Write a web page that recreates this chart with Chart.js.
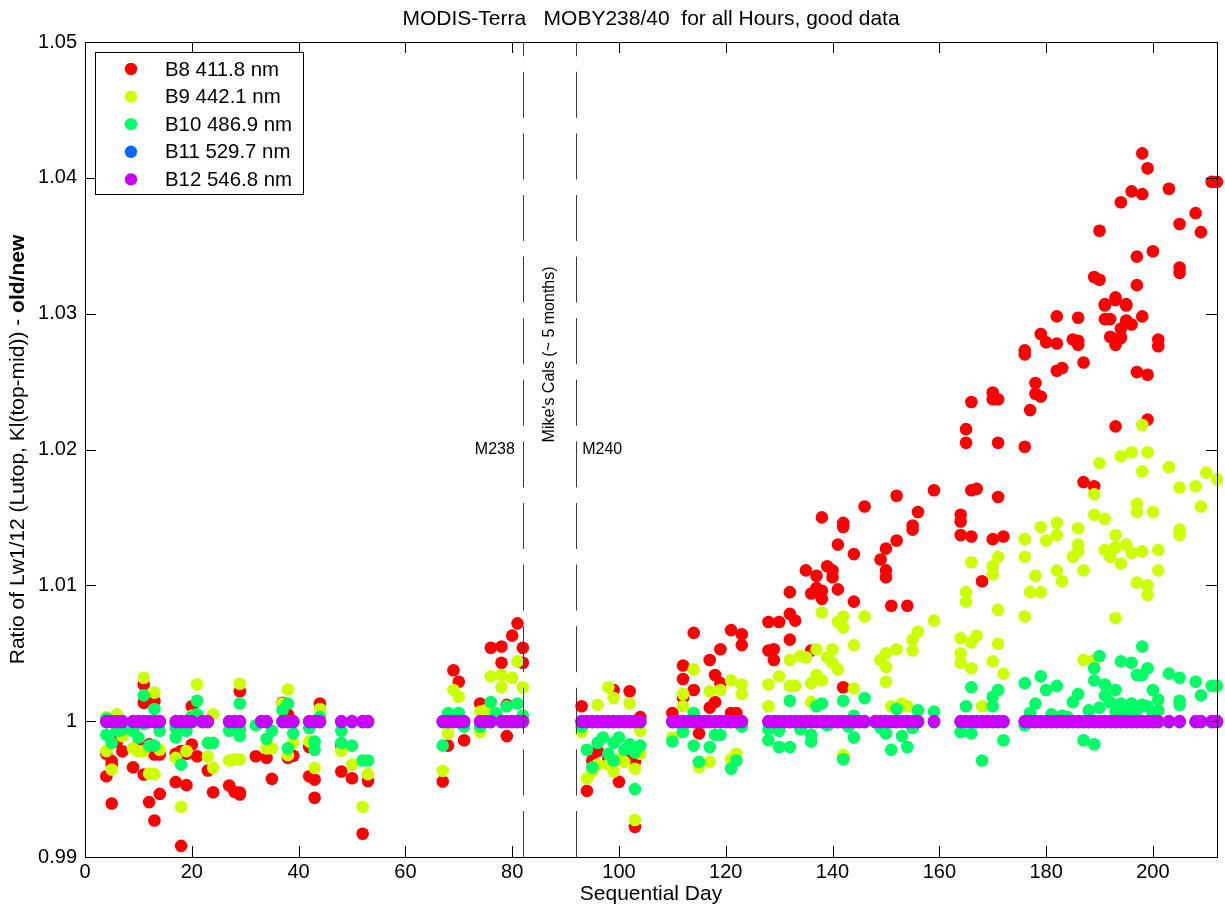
<!DOCTYPE html>
<html>
<head>
<meta charset="utf-8">
<script src="https://cdn.jsdelivr.net/npm/chart.js"></script>
<style>
  html, body { margin: 0; padding: 0; background: #fff; }
</style>
</head>
<body>
<canvas id="chart" width="1225" height="907"></canvas>
<script>
// text
const titleText = 'MODIS-Terra   MOBY238/40  for all Hours, good data';
const xTitle = 'Sequential Day';
const yTitle = 'Ratio of Lw1/12 (Lutop, Kl(top-mid)) - ';
const yTitleBold = 'old/new';

// axes
const xMin = 0, xMax = 212;
const yMin = 0.99, yMax = 1.05;
const xTicks = [0, 20, 40, 60, 80, 100, 120, 140, 160, 180, 200];
const yTicks = [0.99, 1.0, 1.01, 1.02, 1.03, 1.04, 1.05];

// bands
const bandNames = ['B8 411.8 nm', 'B9 442.1 nm', 'B10 486.9 nm', 'B11 529.7 nm', 'B12 546.8 nm'];
const bandColors = ['#ff0000', '#ccff00', '#00ff66', '#0066ff', '#cc00ff'];

// calibration change markers
const calDays = [82, 92];
const calLabels = ['M238', 'M240'];
const calNote = "Mike's Cals (~ 5 months)";
const calLabelLevel = 1.02;
const calNoteLevel = 1.027;

// [day, ratio]
const b8 = [
  [4,.99595],[4,.9976],[5,.99706],[5,.99394],[5,.9968],[6,.9985],[7,.99779],[9,.99661],[10,.9982],[11,.99607],
  [11,1.0027],[11,1.00135],[12,.99404],[12,.9983],[13,.99269],[13,1.00147],[13,.99755],[14,.99755],[14,.99465],
  [17,.99551],[17,.9976],[18,.99082],[18,.9978],[19,.99529],[19,.9976],[20,1.0011],[20,.99828],[21,.99742],
  [23,.99637],[24,.99477],[27,.99526],[28,.9948],[29,.9946],[29,1.0022],[29,.99475],[32,.99742],[34,.9973],
  [35,.99575],[37,1.00135],[38,1.0005],[38,.9973],[39,.99745],[42,.99595],[42,.9981],[43,.9957],[43,.99436],
  [44,1.0013],[48,.9963],[48,.9982],[50,.9958],[52,.99171],[53,.9956],
  [67,.99556],[68,.9982],[69,1.00375],[70,1.0029],[71,.9986],[74,1.0013],[76,1.0054],[78,1.0055],[78,1.0043],
  [79,1.0012],[79,.9989],[80,1.0063],[81,1.0072],[82,1.0054],[82,1.0043],
  [93,1.0011],[94,.99487],[95,.9971],[96,.9978],[98,.9973],[99,1.0023],[100,.99553],[101,.9973],[102,1.0022],
  [102,.9978],[103,.99222],[103,.997],[104,1.0003],
  [110,1.0006],[112,1.0041],[112,1.0031],[112,1.0017],[114,1.0023],[114,1.0065],[115,.9991],[117,1.0045],
  [117,1.001],[118,1.0034],[118,1.0014],[119,1.0028],[119,1.0053],[121,1.0067],[121,1.0006],[122,1.0006],
  [123,1.0064],[123,1.0056],
  [128,1.0073],[128,1.0052],[129,1.0053],[129,1.0045],[130,1.0073],[132,1.006],[132,1.0079],[132,1.0095],
  [133,1.0074],[135,1.0111],[136,1.0052],[136,1.0094],[137,1.0107],[137,1.0098],[138,1.0096],[138,1.009],
  [138,1.015],[139,1.0114],[140,1.0111],[140,1.0106],[141,1.0097],[141,1.013],[142,1.0146],[142,1.0143],
  [142,1.0025],[142,.9974],[144,1.0123],[144,1.0088],[146,1.0158],[149,1.0119],[150,1.0127],[150,1.0111],
  [150,1.0106],[151,1.0085],[152,1.0166],[152,1.0133],[154,1.0085],[155,1.0144],[155,1.0141],[156,1.0154],
  [159,1.017],
  [164,1.0152],[164,1.0147],[164,1.0137],[165,1.0215],[165,1.0205],[166,1.0235],[166,1.0136],[166,1.017],
  [167,1.0171],[168,1.0103],[170,1.0242],[170,1.0237],[170,1.0134],[171,1.0237],[171,1.0205],[171,1.0165],
  [172,1.0136],[176,1.0273],[176,1.027],[176,1.0202],[177,1.0229],[178,1.0249],[178,1.0241],[179,1.0239],
  [179,1.0285],[180,1.0279],[182,1.0278],[182,1.0298],[182,1.0258],[183,1.026],[185,1.0281],[186,1.028],
  [186,1.0277],[186,1.0297],[187,1.0264],[187,1.0176],[189,1.0173],[189,1.0327],[190,1.0325],[190,1.0361],
  [191,1.0306],[191,1.0296],[191,1.0307],[192,1.0283],[192,1.0296],[193,1.031],[193,1.0277],[193,1.0312],
  [193,1.0217],[194,1.0283],[194,1.0289],[194,1.0382],[194,1.0282],[195,1.0294],[195,1.0306],[195,1.0307],
  [195,1.0295],[196,1.0292],[196,1.039],[197,1.0257],[197,1.0342],[197,1.0321],[198,1.0298],[198,1.0418],
  [198,1.0388],[199,1.0255],[199,1.0222],[199,1.0407],[200,1.0346],[201,1.0281],[201,1.0276],[203,1.0392],
  [205,1.0366],[205,1.0334],[205,1.033],[208,1.0374],[209,1.036],[211,1.0397],[212,1.0397]
];

const b9 = [
  [4,1.0003],[4,.9978],[5,.99644],[6,1.0005],[7,.9989],[9,.998],[10,.9978],[11,1.0032],[11,.9978],[12,.99615],
  [13,.9961],[13,1.0021],[14,.9979],[17,.9973],[18,.9937],[19,.9978],[20,1.0004],[21,1.0027],[23,.9974],
  [24,1.0005],[24,.99656],[27,.9971],[28,.9972],[29,.9972],[29,1.00275],[34,.998],[35,.998],[37,1.0013],
  [38,1.00233],[38,.9975],[39,.9984],[42,.9985],[43,.99656],[44,1.0009],[48,.9978],[50,.9968],[52,.9937],
  [53,.9961],
  [67,.99634],[68,.9991],[69,1.0023],[70,1.0018],[74,1.0007],[74,.9992],[75,1.0008],[76,1.0033],[78,1.0034],
  [78,1.0025],[80,1.0032],[81,1.0044],[82,1.0025],
  [93,.9992],[94,.99578],[95,.9963],[96,1.0012],[96,.9968],[98,1.0025],[98,.9968],[99,1.0017],[99,.9963],
  [100,.9972],[101,.997],[102,1.0013],[103,.9965],[103,.99272],[104,.9993],[104,.9976],
  [110,.9988],[112,1.002],[112,1.0011],[114,1.0038],[115,.9966],[117,1.0022],[117,.997],[119,1.0023],
  [121,1.003],[121,.9972],[122,.9976],[123,1.0027],[123,1.002],
  [128,1.0027],[128,1.0011],[130,1.0033],[132,1.0045],[132,1.0026],[133,1.0026],[134,1.0048],[135,1.0047],
  [136,1.0028],[136,1.0014],[137,1.0053],[137,1.0034],[138,1.008],[138,1.003],[139,1.0047],[140,1.0053],
  [140,1.0043],[141,1.0073],[141,1.0038],[142,1.0077],[142,1.0069],[142,.9975],[144,1.0056],[144,1.0024],
  [146,1.0077],[149,1.0045],[150,1.005],[150,1.004],[150,1.0029],[151,1.0011],[152,1.0053],[153,1.0013],
  [154,1.0011],[155,1.006],[155,1.0052],[156,1.0066],[159,1.0074],
  [164,1.0061],[164,1.005],[164,1.0043],[165,1.0095],[165,1.0088],[166,1.0058],[166,1.0039],[166,1.0117],
  [167,1.0063],[168,1.0011],[170,1.0114],[170,1.0108],[170,1.0044],[171,1.0082],[171,1.0057],[171,1.0121],
  [172,1.0035],[176,1.0077],[176,1.0134],[176,1.0121],[177,1.0095],[178,1.0107],[179,1.0095],[179,1.0143],
  [180,1.0133],[182,1.0111],[182,1.0146],[182,1.0137],[183,1.0103],[185,1.0121],[186,1.0142],[186,1.013],
  [186,1.0125],[187,1.0111],[187,1.0045],[189,1.0045],[189,1.0167],[189,1.0152],[190,1.019],[191,1.0149],
  [191,1.0126],[192,1.0121],[193,1.0137],[193,1.0128],[193,1.0076],[194,1.0116],[194,1.0195],[195,1.013],
  [196,1.0198],[196,1.0124],[197,1.0102],[197,1.016],[197,1.0154],[198,1.0218],[198,1.0184],[198,1.0125],
  [199,1.0198],[199,1.01],[199,1.0093],[200,1.0154],[201,1.0126],[201,1.0111],[203,1.0187],[205,1.0172],
  [205,1.0141],[205,1.0137],[208,1.0173],[209,1.0158],[210,1.0183],[212,1.0178]
];

const b10 = [
  [4,.999],[4,1.0002],[5,.9984],[6,.9993],[7,.9994],[9,.9993],[10,.9988],[11,1.0019],[11,.9998],[12,.9982],
  [13,.9982],[13,1.0009],[14,.9993],[17,.9988],[17,.9995],[18,.9968],[19,.9993],[20,1.0003],[21,1.0015],
  [21,1.0005],[23,.9984],[24,.9984],[27,.9993],[29,1.0013],[29,.9989],[29,.9994],[32,.9997],[34,.9987],
  [35,.9993],[37,1.0008],[38,1.0013],[38,.998],[39,.9991],[42,.9995],[43,.9985],[43,.9979],[44,1.0003],
  [48,.9993],[48,.9984],[50,.9982],[52,.9971],[53,.9971],
  [67,.9982],[68,1.0006],[69,1.0003],[70,1.0006],[71,.9996],[74,.9996],[76,1.0014],[77,1.0006],[79,1.0011],
  [81,1.0013],[82,1.0004],
  [93,.9996],[94,.9979],[95,.9966],[96,.9984],[97,.9988],[98,.9976],[99,.9971],[99,.9984],[100,.9988],
  [101,.9979],[102,.9983],[103,.995],[103,.9977],[104,.9982],
  [110,.9985],[112,.9992],[114,1.0006],[114,.9982],[115,.997],[117,.9981],[118,.999],[119,.999],[121,.9965],
  [122,.9971],[123,.9996],
  [128,.9994],[128,.9986],[130,.9981],[130,.9993],[132,1.0015],[132,.9981],[134,.9994],[136,.999],[136,.9985],
  [137,1.0011],[138,1.0013],[139,.9997],[142,1.0015],[142,.9972],[143,.9996],[144,1.0004],[144,.9988],
  [146,1.0017],[149,.9995],[150,.9991],[151,.9979],[152,1.0009],[153,.9989],[154,.9981],[155,.9995],
  [156,1.0008],[159,1.0007],
  [164,.9992],[165,1.0011],[166,1.0025],[166,.9991],[168,.9971],[170,1.0018],[170,1.0011],[171,1.0023],
  [172,.9986],[176,1.0028],[176,.9997],[177,1.0006],[178,1.0013],[179,1.0033],[180,1.0023],[181,1.0005],
  [182,1.0026],[183,1.0004],[184,1.0003],[185,1.0014],[186,1.002],[187,.9986],[188,1.0008],[189,.9983],
  [189,1.0039],[189,1.003],[190,1.0048],[190,1.001],[191,1.0027],[191,1.0019],[192,1.0014],[193,1.0023],
  [193,1.0007],[194,1.0044],[194,1.0013],[195,1.0011],[195,1.0004],[196,1.0043],[196,1.0013],[197,1.0034],
  [197,1.0008],[198,1.0034],[198,1.0055],[198,1.0012],[199,1.0039],[199,1.0011],[200,1.0023],[200,1.0006],
  [201,1.0016],[201,1.0008],[203,1.0035],[205,1.0032],[205,1.0015],[205,1.0012],[208,1.0029],[209,1.0019],
  [211,1.0026],[212,1.0026]
];

const b11 = [
  [4,.99993],[5,.99993],[6,.99993],[7,.99993],[9,.99993],[10,.99993],[11,.99993],[12,.99993],[13,.99993],[14,.99993],
  [17,.99993],[18,.99993],[19,.99993],[20,.99993],[22,.99993],[23,.99993],[27,.99993],[28,.99993],[29,.99993],
  [33,.99993],[34,.99993],[37,.99993],[38,.99993],[39,.99993],[42,.99993],[43,.99993],[44,.99993],
  [48,.99993],[50,.99993],[52,.99993],[53,.99993],
  [67,.99993],[68,.99993],[69,.99993],[70,.99993],[71,.99993],[74,.99993],[75,.99993],[76,.99993],
  [78,.99993],[79,.99993],[80,.99993],[81,.99993],[82,.99993],
  [93,.99993],[94,.99993],[95,.99993],[96,.99993],[97,.99993],[98,.99993],[99,.99993],[100,.99993],
  [101,.99993],[102,.99993],[103,.99993],[104,.99993],
  [110,.99993],[111,.99993],[112,.99993],[113,.99993],[114,.99993],[115,.99993],[116,.99993],[117,.99993],
  [118,.99993],[119,.99993],[120,.99993],[121,.99993],[122,.99993],[123,.99993],
  [128,.99993],[129,.99993],[130,.99993],[131,.99993],[132,.99993],[133,.99993],[134,.99993],[135,.99993],
  [136,.99993],[137,.99993],[138,.99993],[139,.99993],[140,.99993],[141,.99993],[142,.99993],[143,.99993],
  [144,.99993],[145,.99993],[146,.99993],[148,.99993],[149,.99993],[150,.99993],[151,.99993],[152,.99993],
  [153,.99993],[154,.99993],[155,.99993],[156,.99993],[159,.99993],
  [164,.99993],[165,.99993],[166,.99993],[167,.99993],[168,.99993],[169,.99993],[170,.99993],[171,.99993],
  [172,.99993],
  [176,.99993],[177,.99993],[178,.99993],[179,.99993],[180,.99993],[181,.99993],[182,.99993],[183,.99993],
  [184,.99993],[185,.99993],[186,.99993],[187,.99993],[188,.99993],[189,.99993],[190,.99993],[191,.99993],
  [192,.99993],[193,.99993],[194,.99993],[195,.99993],[196,.99993],[197,.99993],[198,.99993],[199,.99993],
  [200,.99993],[201,.99993],[203,.99993],[205,.99993],[208,.99993],[209,.99993],[211,.99993],[212,.99993]
];

const b12 = [
  [4,1],[5,1],[6,1],[7,1],[9,1],[10,1],[11,1],[12,1],[13,1],[14,1],
  [17,1],[18,1],[19,1],[20,1],[22,1],[23,1],[27,1],[28,1],[29,1],
  [33,1],[34,1],[37,1],[38,1],[39,1],[42,1],[43,1],[44,1],
  [48,1],[50,1],[52,1],[53,1],
  [67,1],[68,1],[69,1],[70,1],[71,1],[74,1],[75,1],[76,1],
  [78,1],[79,1],[80,1],[81,1],[82,1],
  [93,1],[94,1],[95,1],[96,1],[97,1],[98,1],[99,1],[100,1],[101,1],[102,1],[103,1],[104,1],
  [110,1],[111,1],[112,1],[113,1],[114,1],[115,1],[116,1],[117,1],[118,1],[119,1],[120,1],[121,1],[122,1],[123,1],
  [128,1],[129,1],[130,1],[131,1],[132,1],[133,1],[134,1],[135,1],[136,1],[137,1],[138,1],[139,1],[140,1],
  [141,1],[142,1],[143,1],[144,1],[145,1],[146,1],[148,1],[149,1],[150,1],[151,1],[152,1],[153,1],[154,1],
  [155,1],[156,1],[159,1],
  [164,1],[165,1],[166,1],[167,1],[168,1],[169,1],[170,1],[171,1],[172,1],
  [176,1],[177,1],[178,1],[179,1],[180,1],[181,1],[182,1],[183,1],[184,1],[185,1],[186,1],[187,1],[188,1],
  [189,1],[190,1],[191,1],[192,1],[193,1],[194,1],[195,1],[196,1],[197,1],[198,1],[199,1],[200,1],[201,1],
  [203,1],[205,1],[208,1],[209,1],[211,1],[212,1]
];

const bandData = [b8, b9, b10, b11, b12];
const FONT = '"Liberation Sans", Arial, sans-serif';

// frame, inward ticks, dashed markers, legend and titles, drawn MATLAB-style
const decor = {
  id: 'decor',
  afterDatasetsDraw(chart) {
    const {ctx, chartArea: a, scales: {x, y}} = chart;
    ctx.save();

    // calibration lines
    ctx.strokeStyle = '#3a3a3a';
    ctx.lineWidth = 1;
    ctx.setLineDash([46, 15.6]);
    calDays.forEach(d => {
      const px = Math.round(x.getPixelForValue(d)) + 0.5;
      ctx.beginPath();
      ctx.moveTo(px, a.bottom);
      ctx.lineTo(px, a.top);
      ctx.stroke();
    });
    ctx.setLineDash([]);

    // box + ticks
    ctx.strokeStyle = '#000';
    ctx.strokeRect(Math.round(a.left) + 0.5, Math.round(a.top) + 0.5,
      Math.round(a.right - a.left), Math.round(a.bottom - a.top));
    ctx.beginPath();
    xTicks.forEach(v => {
      const px = Math.round(x.getPixelForValue(v)) + 0.5;
      ctx.moveTo(px, a.bottom); ctx.lineTo(px, a.bottom - 11);
      ctx.moveTo(px, a.top); ctx.lineTo(px, a.top + 11);
    });
    yTicks.forEach(v => {
      const py = Math.round(y.getPixelForValue(v)) + 0.5;
      ctx.moveTo(a.left, py); ctx.lineTo(a.left + 11, py);
      ctx.moveTo(a.right, py); ctx.lineTo(a.right - 11, py);
    });
    ctx.stroke();

    // marker labels
    ctx.fillStyle = '#000';
    ctx.font = '16px ' + FONT;
    ctx.textBaseline = 'middle';
    const ly = y.getPixelForValue(calLabelLevel);
    ctx.textAlign = 'right';
    ctx.fillText(calLabels[0], x.getPixelForValue(calDays[0]) - 8, ly);
    ctx.textAlign = 'left';
    ctx.fillText(calLabels[1], x.getPixelForValue(calDays[1]) + 6, ly);
    ctx.save();
    ctx.translate((x.getPixelForValue(calDays[0]) + x.getPixelForValue(calDays[1])) / 2, y.getPixelForValue(calNoteLevel));
    ctx.rotate(-Math.PI / 2);
    ctx.textAlign = 'center';
    ctx.fillText(calNote, 0, 0);
    ctx.restore();

    // legend
    const lx = 95, lyTop = 52, lw = 208, lh = 142;
    ctx.fillStyle = '#fff';
    ctx.fillRect(lx, lyTop, lw, lh);
    ctx.strokeStyle = '#000';
    ctx.strokeRect(lx + 0.5, lyTop + 0.5, lw, lh);
    ctx.font = '20.4px ' + FONT;
    ctx.textAlign = 'left';
    chart.data.datasets.forEach((ds, i) => {
      const ry = 69 + i * 27.6;
      ctx.fillStyle = ds.backgroundColor;
      ctx.beginPath();
      ctx.arc(131, ry, 6.2, 0, Math.PI * 2);
      ctx.fill();
      ctx.fillStyle = '#000';
      ctx.fillText(ds.label, 165, ry + 1);
    });
    ctx.restore();
  },
  afterDraw(chart) {
    const {ctx, chartArea: a} = chart;
    const cx = (a.left + a.right) / 2;
    const cy = (a.top + a.bottom) / 2;
    ctx.save();
    ctx.fillStyle = '#000';
    ctx.textBaseline = 'middle';
    ctx.textAlign = 'center';
    ctx.font = '21px ' + FONT;
    ctx.fillText(titleText, cx, 19);
    ctx.fillText(xTitle, cx, 894);

    // y title, last part bold
    ctx.translate(18, cy);
    ctx.rotate(-Math.PI / 2);
    ctx.textAlign = 'left';
    ctx.font = '21px ' + FONT;
    const w1 = ctx.measureText(yTitle).width;
    ctx.font = 'bold 21px ' + FONT;
    const w2 = ctx.measureText(yTitleBold).width;
    const start = -(w1 + w2) / 2;
    ctx.font = '21px ' + FONT;
    ctx.fillText(yTitle, start, 0);
    ctx.font = 'bold 21px ' + FONT;
    ctx.fillText(yTitleBold, start + w1, 0);
    ctx.restore();
  }
};

const datasets = bandData.map((pts, i) => ({
  label: bandNames[i],
  data: pts.map(([d, v]) => ({x: d, y: v})),
  backgroundColor: bandColors[i],
  borderWidth: 0,
  pointRadius: 6.3,
  pointHoverRadius: 6.3,
  clip: false,
  order: bandData.length - 1 - i   // later bands drawn on top
}));

new Chart(document.getElementById('chart'), {
  type: 'scatter',
  data: {datasets: datasets},
  options: {
    responsive: false,
    animation: false,
    devicePixelRatio: 1,
    events: [],
    layout: {padding: {top: 42, right: 8, bottom: 0, left: 0}},
    plugins: {
      legend: {display: false},
      tooltip: {enabled: false},
      title: {display: false}
    },
    scales: {
      x: {
        type: 'linear',
        min: xMin,
        max: xMax,
        grid: {display: false, drawTicks: false},
        border: {display: false},
        afterBuildTicks: s => { s.ticks = xTicks.map(v => ({value: v})); },
        afterFit: s => { s.height = 50; },
        ticks: {
          color: '#000',
          padding: 3,
          maxRotation: 0,
          autoSkip: false,
          font: {family: FONT, size: 20}
        }
      },
      y: {
        type: 'linear',
        min: yMin,
        max: yMax,
        grid: {display: false, drawTicks: false},
        border: {display: false},
        afterBuildTicks: s => { s.ticks = yTicks.map(v => ({value: v})); },
        afterFit: s => { s.width = 85; },
        ticks: {
          color: '#000',
          padding: 8,
          autoSkip: false,
          font: {family: FONT, size: 20},
          callback: v => String(Number(v.toFixed(2)))
        }
      }
    }
  },
  plugins: [decor]
});
</script>
</body>
</html>
